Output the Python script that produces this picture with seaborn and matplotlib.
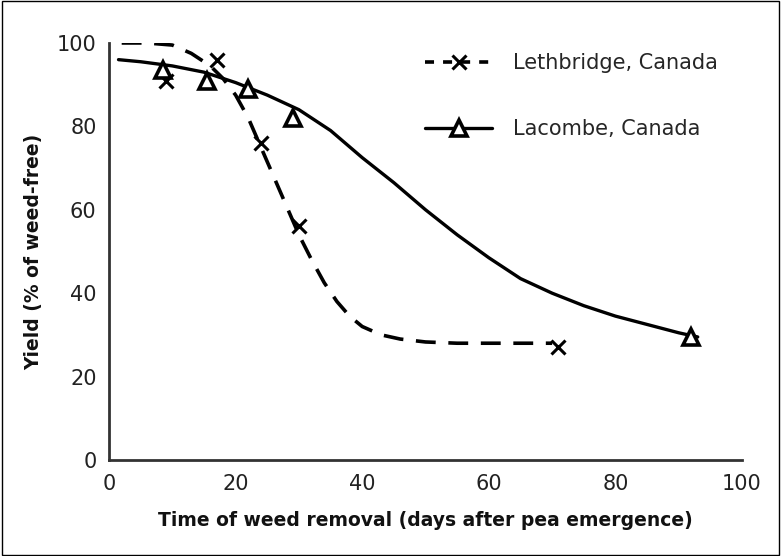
import matplotlib
matplotlib.use("Agg")
import matplotlib.pyplot as plt
from matplotlib.lines import Line2D
from matplotlib.patches import Rectangle
import seaborn as sns

sns.set_style("white")
plt.rcParams["font.family"] = ["DejaVu Sans"]

# observed points
leth_x = [9, 17, 24, 30, 71]
leth_y = [91, 96, 76, 56, 27]
lac_x = [8.5, 15.5, 22, 29, 92]
lac_y = [93.5, 91, 89, 82, 29.5]

# fitted curves
leth_curve_x = [2, 6, 10, 13, 16, 18, 20, 22, 24, 26, 28, 30, 32, 34, 36, 38, 40, 43, 46, 50, 55, 60, 65, 70]
leth_curve_y = [100, 100, 99.5, 97.5, 94.5, 91.5, 87.5, 82, 75, 68, 61, 54, 48, 42.5, 38, 34.5, 32, 30, 29, 28.3, 28, 28, 28, 28]
lac_curve_x = [1.5, 5, 10, 15, 20, 25, 30, 35, 40, 45, 50, 55, 60, 65, 70, 75, 80, 85, 90, 93]
lac_curve_y = [96, 95.5, 94.5, 93, 90.5, 87.5, 84, 79, 72.5, 66.5, 60, 54, 48.5, 43.5, 40, 37, 34.5, 32.5, 30.5, 29.5]

fig = plt.figure(figsize=(7.81, 5.56), dpi=100)
ax = fig.add_axes([0.1396, 0.1727, 0.8105, 0.75])

sns.lineplot(x=leth_curve_x, y=leth_curve_y, ax=ax, color="black", lw=2.6,
             linestyle=(0, (5.5, 3.5)), sort=False)
sns.lineplot(x=lac_curve_x, y=lac_curve_y, ax=ax, color="black", lw=2.4, sort=False)
ax.plot(leth_x, leth_y, linestyle="none", marker="x", ms=10, mew=2.2, color="black")
ax.plot(lac_x, lac_y, linestyle="none", marker="^", ms=12, mew=2.6,
        mfc="white", mec="black")

ax.set_xlim(0, 100)
ax.set_ylim(0, 100)
ax.set_xticks(range(0, 101, 20))
ax.set_yticks(range(0, 101, 20))
ax.tick_params(labelsize=15, length=0, colors="#222222")
ax.tick_params(axis="x", pad=10)
ax.tick_params(axis="y", pad=9)
for s in ["top", "right"]:
    ax.spines[s].set_visible(False)
for s in ["left", "bottom"]:
    ax.spines[s].set_color("#333333")
    ax.spines[s].set_linewidth(2)

ax.set_xlabel("Time of weed removal (days after pea emergence)", fontsize=13.5,
              fontweight="bold", labelpad=12, color="#111111")
ax.set_ylabel("Yield (% of weed-free)", fontsize=13.5, fontweight="bold",
              labelpad=10, color="#111111")

handles = [
    Line2D([], [], color="black", lw=2.6, linestyle=(0, (2.5, 2.5)), marker="x", ms=10, mew=2.2),
    Line2D([], [], color="black", lw=2.4, marker="^", ms=12, mew=2.6, mfc="white"),
]
ax.legend(handles, ["Lethbridge, Canada", "Lacombe, Canada"], loc="upper left",
          bbox_to_anchor=(0.47, 1.02), frameon=False, fontsize=15,
          handlelength=3.2, handletextpad=1.0, labelspacing=2.2)

fig.add_artist(Rectangle((0.002, 0.002), 0.996, 0.996, transform=fig.transFigure,
                         fill=False, edgecolor="black", lw=1))

fig.savefig("out.png", dpi=100)
